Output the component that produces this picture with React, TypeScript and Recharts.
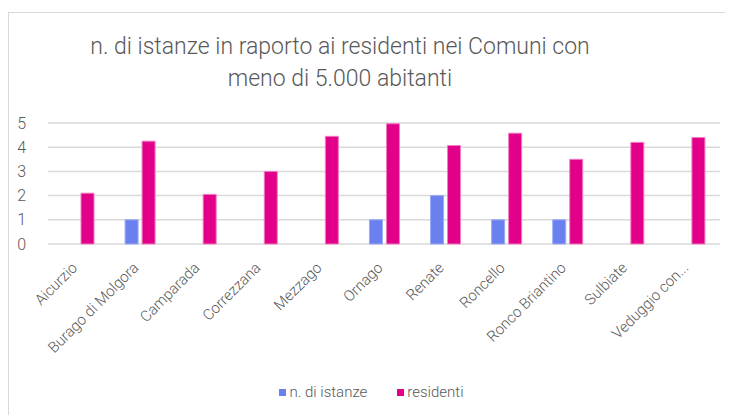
import { BarChart, Bar, XAxis, YAxis, CartesianGrid, Legend } from "recharts";

const comuni = [
  "Aicurzio",
  "Burago di Molgora",
  "Camparada",
  "Correzzana",
  "Mezzago",
  "Ornago",
  "Renate",
  "Roncello",
  "Ronco Briantino",
  "Sulbiate",
  "Veduggio con...",
];
const istanze = [0, 1, 0, 0, 0, 1, 2, 1, 1, 0, 0];
const residenti = [2.1, 4.25, 2.05, 3.0, 4.45, 4.97, 4.07, 4.58, 3.5, 4.2, 4.4];
const yTicks = [0, 1, 2, 3, 4, 5];

const data = comuni.map((c, i) => ({
  comune: c,
  istanze: istanze[i],
  residenti: residenti[i],
}));

const grey = "#595959";
const font = "Roboto, 'Liberation Sans', Arial, sans-serif";

const AngledTick = (props: any) => {
  const { x, y, payload } = props;
  return (
    <g transform={`translate(${x - 4},${y + 13})`}>
      <text
        transform="rotate(-45)"
        textAnchor="end"
        dy="0.35em"
        fill={grey}
        fontSize={15}
        fontWeight={300}
        fontFamily={font}
      >
        {payload.value}
      </text>
    </g>
  );
};

const LegendBox = () => (
  <div
    style={{
      display: "flex",
      justifyContent: "center",
      gap: 30,
      fontFamily: font,
      fontWeight: 300,
      fontSize: 15,
      color: grey,
      paddingLeft: 14,
    }}
  >
    <span style={{ display: "flex", alignItems: "center", gap: 3 }}>
      <span style={{ width: 7, height: 7, background: "#6a80ee", display: "inline-block" }} />
      n. di istanze
    </span>
    <span style={{ display: "flex", alignItems: "center", gap: 3 }}>
      <span style={{ width: 7, height: 7, background: "#e2008a", display: "inline-block" }} />
      residenti
    </span>
  </div>
);

export default function App() {
  return (
    <div
      style={{
        marginTop: 4,
        width: 724,
        height: 402,
        borderTop: "1px solid #d9d9d9",
        borderLeft: "1px solid #d9d9d9",
        position: "relative",
        background: "#fff",
        overflow: "hidden",
      }}
    >
      <div
        style={{
          position: "absolute",
          top: 18,
          left: 0,
          width: 662,
          textAlign: "center",
          fontFamily: font,
          fontWeight: 300,
          fontSize: 23,
          lineHeight: "32px",
          color: grey,
        }}
      >
        n. di istanze in raporto ai residenti nei Comuni con
        <br />
        meno di 5.000 abitanti
      </div>
      <BarChart
        width={724}
        height={400}
        data={data}
        margin={{ top: 110, right: 13, left: 0, bottom: 0 }}
        barSize={13}
        barGap={4}
      >
        <CartesianGrid vertical={false} stroke="#d9d9d9" strokeWidth={1.5} />
        <XAxis
          dataKey="comune"
          axisLine={false}
          tickLine={false}
          interval={0}
          height={139}
          tick={<AngledTick />}
        />
        <YAxis
          width={39}
          domain={[0, 5]}
          ticks={yTicks}
          axisLine={false}
          tickLine={false}
          tickMargin={16}
          tick={{ fill: grey, fontSize: 16, fontWeight: 300, fontFamily: font }}
        />
        <Legend verticalAlign="bottom" height={30} content={<LegendBox />} />
        <Bar
          dataKey="istanze"
          name="n. di istanze"
          fill="#6a80ee"
          stroke="#9aaaf4"
          strokeWidth={1}
          isAnimationActive={false}
        />
        <Bar
          dataKey="residenti"
          name="residenti"
          fill="#e2008a"
          stroke="#f27cbf"
          strokeWidth={1}
          isAnimationActive={false}
        />
      </BarChart>
    </div>
  );
}
